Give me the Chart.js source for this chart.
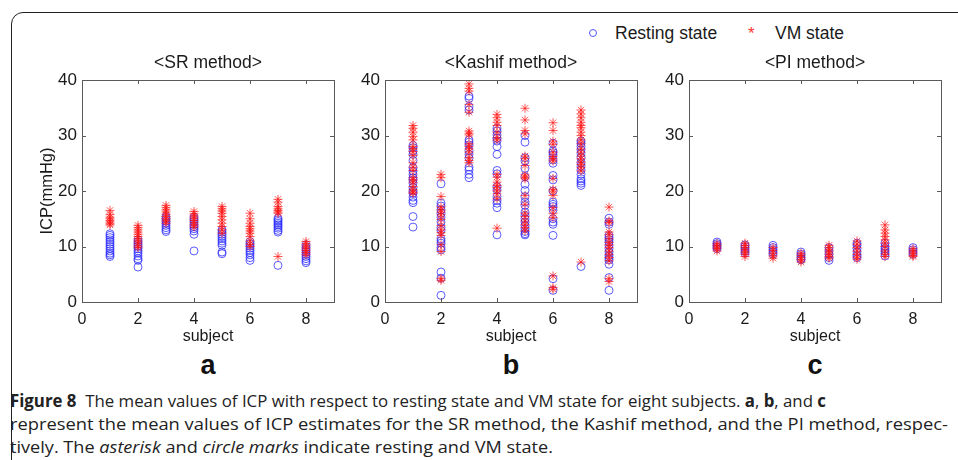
<!DOCTYPE html>
<html>
<head>
<meta charset="utf-8">
<script src="https://cdn.jsdelivr.net/npm/chart.js@4.4.1/dist/chart.umd.min.js"></script>
<style>
  html, body { margin: 0; padding: 0; background: #fff; }
  body { width: 958px; height: 460px; position: relative; overflow: hidden; font-family: Arial, "Liberation Sans", sans-serif; }
  .frame { position: absolute; left: 11px; top: 12px; width: 980px; height: 480px; border: 1px solid #222; border-top-left-radius: 12px; }
  canvas { position: absolute; }
  .legend { position: absolute; top: 23px; font-size: 17.5px; color: #1a1a1a; }
  .circ { position: absolute; width: 6px; height: 6px; border: 1px solid #5555ff; border-radius: 50%; }
  .star { position: absolute; color: #ff3333; font-size: 17px; }
  .panel { position: absolute; top: 350px; font: bold 27px Arial, "Liberation Sans", sans-serif; color: #111; width: 40px; text-align: center; }
  .cap { position: absolute; left: 10px; font-family: "Open Sans", sans-serif; font-size: 17px; color: #222; white-space: nowrap; transform-origin: 0 0; line-height: 22px; }
</style>
</head>
<body>
<div class="frame"></div>

<div class="circ" style="left:589px; top:29px;"></div>
<div class="legend" style="left:615px;">Resting state</div>
<div class="star" style="left:748px; top:24px;">*</div>
<div class="legend" style="left:775px;">VM state</div>

<canvas id="chartA" width="316" height="304" style="left:30px; top:45px;"></canvas>
<canvas id="chartB" width="316" height="304" style="left:333px; top:45px;"></canvas>
<canvas id="chartC" width="316" height="304" style="left:637px; top:45px;"></canvas>

<div class="panel" style="left:188px;">a</div>
<div class="panel" style="left:491px;">b</div>
<div class="panel" style="left:795px;">c</div>

<div class="cap" id="cap1" data-w="816" style="top:390px;"><b>Figure 8</b>&nbsp; The mean values of ICP with respect to resting state and VM state for eight subjects. <b>a</b>, <b>b</b>, and <b>c</b></div>
<div class="cap" id="cap2" data-w="938" style="top:413px;">represent the mean values of ICP estimates for the SR method, the Kashif method, and the PI method, respec-</div>
<div class="cap" id="cap3" data-w="543" style="top:436px;">tively. The <i>asterisk</i> and <i>circle marks</i> indicate resting and VM state.</div>

<script>
const subjects = [1, 2, 3, 4, 5, 6, 7, 8];
const xTicks = [0, 2, 4, 6, 8];
const yTicks = [0, 10, 20, 30, 40];

// SR method
const srRest = [
  [12.3, 12.0, 11.6, 11.2, 10.8, 10.4, 10.0, 9.6, 9.2, 8.8, 8.5, 8.2],
  [11.2, 10.8, 10.4, 10.0, 9.6, 9.2, 8.8, 8.3, 7.8, 7.5, 6.3],
  [15.4, 15.0, 14.6, 14.2, 13.8, 13.4, 13.0, 12.7],
  [15.3, 14.9, 14.5, 14.0, 13.6, 13.2, 12.8, 12.2, 9.2],
  [13.0, 12.6, 12.2, 11.8, 11.4, 11.0, 10.6, 10.2, 9.0, 8.7],
  [10.9, 10.5, 10.1, 9.7, 9.3, 8.9, 8.5, 8.0, 7.5],
  [15.1, 14.8, 14.5, 14.2, 13.9, 13.6, 13.3, 12.9, 12.6, 6.6],
  [10.3, 9.8, 9.4, 9.0, 8.6, 8.2, 7.8, 7.4, 7.1]
];
const srVM = [
  [16.5, 15.8, 15.3, 15.0, 14.7, 14.4, 14.1, 13.9],
  [13.8, 13.4, 13.0, 12.6, 12.2, 11.8, 11.4, 11.0, 10.6, 10.1, 9.8],
  [17.4, 17.0, 16.6, 16.2, 15.8, 15.4, 15.0, 14.6, 14.2],
  [16.3, 15.9, 15.5, 15.1, 14.7, 14.3, 13.9, 13.5],
  [17.2, 16.8, 16.4, 16.0, 15.4, 14.8, 14.2, 13.6, 13.0, 12.4],
  [16.0, 15.0, 14.2, 13.6, 13.2, 12.8, 12.4, 11.8, 11.0, 10.4, 10.0],
  [18.5, 18.0, 17.2, 16.8, 16.5, 16.2, 16.0, 8.2],
  [10.9, 10.5, 10.1, 9.7, 9.3, 8.9, 8.5]
];

// Kashif method
const kashifRest = [
  [28.2, 27.8, 27.2, 26.6, 25.5, 24.2, 23.6, 23.0, 22.4, 22.0, 21.4, 20.6, 20.0, 19.6, 18.9, 18.3, 17.9, 15.4, 13.5],
  [21.3, 17.8, 17.3, 16.6, 16.0, 15.3, 14.4, 13.4, 12.9, 11.4, 11.0, 10.6, 9.8, 9.4, 5.4, 4.3, 1.2],
  [37.1, 36.7, 35.2, 34.6, 29.2, 28.8, 28.3, 27.3, 26.6, 25.9, 24.3, 23.8, 23.0, 22.4],
  [31.3, 30.8, 30.1, 29.5, 29.0, 28.0, 26.6, 23.7, 23.1, 20.8, 20.2, 19.0, 18.3, 17.8, 17.0, 12.1],
  [30.0, 28.8, 26.0, 25.4, 24.1, 22.6, 21.2, 20.1, 19.0, 18.0, 17.4, 16.2, 15.6, 15.0, 14.4, 13.8, 13.2, 12.7, 12.3, 12.1],
  [28.6, 27.2, 26.9, 26.5, 25.6, 25.0, 22.8, 22.0, 20.0, 18.0, 17.6, 17.2, 16.6, 15.0, 14.4, 14.0, 12.0, 4.2, 2.1],
  [29.0, 28.6, 28.0, 27.4, 26.8, 26.0, 25.1, 24.5, 23.8, 23.0, 22.2, 21.8, 21.4, 21.0, 6.4],
  [15.1, 14.4, 14.0, 12.0, 11.6, 11.2, 10.8, 10.2, 9.6, 9.0, 8.4, 8.0, 7.6, 6.8, 4.4, 2.1]
];
const kashifVM = [
  [31.8, 31.3, 30.6, 29.8, 29.2, 28.0, 27.6, 27.1, 26.4, 25.1, 24.3, 23.7, 22.4, 22.0, 21.6, 20.8, 20.2, 19.8, 19.6],
  [23.0, 22.4, 19.0, 17.1, 16.6, 16.2, 15.7, 14.9, 13.8, 13.0, 12.5, 12.0, 10.3, 9.1, 4.2, 3.9],
  [39.3, 38.5, 38.0, 35.6, 34.2, 30.8, 30.4, 30.1, 28.5, 28.0, 27.6, 27.0, 26.0, 25.5, 25.1],
  [33.8, 33.2, 32.4, 31.8, 30.6, 29.6, 29.2, 23.0, 22.5, 21.6, 21.0, 20.6, 20.0, 19.5, 18.6, 13.3],
  [34.9, 32.8, 30.9, 30.3, 26.3, 25.8, 24.6, 22.9, 22.5, 22.2, 19.2, 17.6, 16.0, 15.4, 14.6, 13.9, 13.4, 12.8],
  [32.3, 30.9, 29.0, 28.4, 27.0, 26.2, 25.8, 25.4, 22.3, 20.3, 20.0, 19.2, 17.0, 16.0, 15.2, 4.7, 2.6, 2.3],
  [34.6, 33.9, 33.2, 32.4, 31.8, 31.4, 30.6, 30.0, 29.2, 28.5, 27.6, 27.0, 26.3, 25.8, 25.2, 24.8, 24.2, 23.6, 7.2],
  [17.1, 14.6, 14.3, 12.6, 12.2, 11.4, 10.7, 10.3, 9.8, 9.2, 8.6, 8.0, 7.4, 4.2, 3.7]
];

// PI method
const piRest = [
  [10.8, 10.5, 10.2, 9.9, 9.6],
  [10.3, 10.0, 9.6, 9.2, 8.8],
  [10.2, 9.8, 9.4, 9.0, 8.6],
  [9.0, 8.6, 8.2, 7.8, 7.6],
  [9.8, 9.2, 8.6, 8.0, 7.5],
  [10.6, 10.2, 9.6, 9.0, 8.4, 8.0],
  [10.6, 10.0, 9.6, 9.2, 8.8, 8.3],
  [9.8, 9.4, 9.0, 8.6]
];
const piVM = [
  [10.5, 10.2, 9.9, 9.6, 9.2],
  [10.6, 10.2, 9.8, 9.4, 9.0, 8.6, 8.2],
  [9.8, 9.3, 8.8, 8.3, 7.9],
  [8.8, 8.4, 8.0, 7.6, 7.2],
  [10.2, 9.8, 9.4, 9.0, 8.6, 8.2, 7.9],
  [11.0, 10.4, 9.8, 9.2, 8.6, 8.1, 7.7],
  [13.9, 13.0, 12.4, 11.8, 11.2, 10.6, 10.0, 9.2, 8.6, 8.2],
  [9.6, 9.2, 8.8, 8.4, 8.2]
];

function toPoints(lists) {
  const pts = [];
  lists.forEach((vals, i) => vals.forEach(v => pts.push({x: subjects[i], y: v})));
  return pts;
}

// MATLAB style box with inward ticks on all four sides
const boxTicks = {
  id: 'boxTicks',
  afterDraw(chart) {
    const {ctx, chartArea: a, scales: {x, y}} = chart;
    ctx.save();
    ctx.strokeStyle = '#5a5a5a';
    ctx.lineWidth = 1;
    ctx.strokeRect(a.left + 0.5, a.top + 0.5, a.right - a.left, a.bottom - a.top);
    ctx.beginPath();
    xTicks.forEach(t => {
      const px = Math.round(x.getPixelForValue(t)) + 0.5;
      ctx.moveTo(px, a.bottom); ctx.lineTo(px, a.bottom - 4);
      ctx.moveTo(px, a.top); ctx.lineTo(px, a.top + 4);
    });
    yTicks.forEach(t => {
      const py = Math.round(y.getPixelForValue(t)) + 0.5;
      ctx.moveTo(a.left, py); ctx.lineTo(a.left + 4, py);
      ctx.moveTo(a.right, py); ctx.lineTo(a.right - 4, py);
    });
    ctx.stroke();
    ctx.restore();
  }
};

const fontFam = 'Arial, "Liberation Sans", sans-serif';

function makeChart(id, title, rest, vm, showY) {
  new Chart(document.getElementById(id), {
    type: 'scatter',
    data: {
      datasets: [
        {
          label: 'Resting state',
          data: toPoints(rest),
          pointStyle: 'circle',
          pointRadius: 4,
          pointBorderWidth: 1,
          borderColor: 'rgba(40, 40, 255, 0.75)',
          backgroundColor: 'rgba(0, 0, 0, 0)',
          order: 2
        },
        {
          label: 'VM state',
          data: toPoints(vm),
          pointStyle: 'star',
          pointRadius: 4.5,
          pointBorderWidth: 1,
          borderColor: 'rgba(255, 20, 20, 0.7)',
          backgroundColor: 'rgba(255, 20, 20, 0.7)',
          order: 1
        }
      ]
    },
    options: {
      responsive: false,
      animation: false,
      events: [],
      layout: { padding: { right: 12 } },
      plugins: {
        legend: { display: false },
        tooltip: { enabled: false },
        title: {
          display: true,
          fullSize: false,
          text: title,
          color: '#1a1a1a',
          font: { family: fontFam, size: 17.5, weight: 'normal' },
          padding: { top: 7.5, bottom: 6.5 }
        }
      },
      scales: {
        x: {
          type: 'linear',
          min: 0, max: 9,
          grid: { display: false, drawTicks: false },
          border: { display: false },
          ticks: {
            stepSize: 2, includeBounds: false, padding: 8,
            color: '#1a1a1a', font: { family: fontFam, size: 16 }
          },
          title: {
            display: true, text: 'subject', color: '#1a1a1a',
            font: { family: fontFam, size: 16 },
            padding: { top: 0, bottom: 3 }
          },
          afterFit(s) { s.height = 47; }
        },
        y: {
          min: 0, max: 40,
          grid: { display: false, drawTicks: false },
          border: { display: false },
          ticks: {
            stepSize: 10, padding: 5,
            color: '#1a1a1a', font: { family: fontFam, size: 17 }
          },
          title: {
            display: showY, text: 'ICP(mmHg)', color: '#1a1a1a',
            font: { family: fontFam, size: 16.5 },
            padding: { top: 8, bottom: 0 }
          },
          afterFit(s) { s.width = 52; }
        }
      }
    },
    plugins: [boxTicks]
  });
}

makeChart('chartA', '<SR method>', srRest, srVM, true);
makeChart('chartB', '<Kashif method>', kashifRest, kashifVM, false);
makeChart('chartC', '<PI method>', piRest, piVM, false);

// squeeze caption lines to the widths of the printed figure
document.querySelectorAll('.cap').forEach(el => {
  const w = el.getBoundingClientRect().width;
  const target = parseFloat(el.dataset.w);
  el.style.transform = 'scaleX(' + (target / w) + ')';
});
</script>
</body>
</html>
